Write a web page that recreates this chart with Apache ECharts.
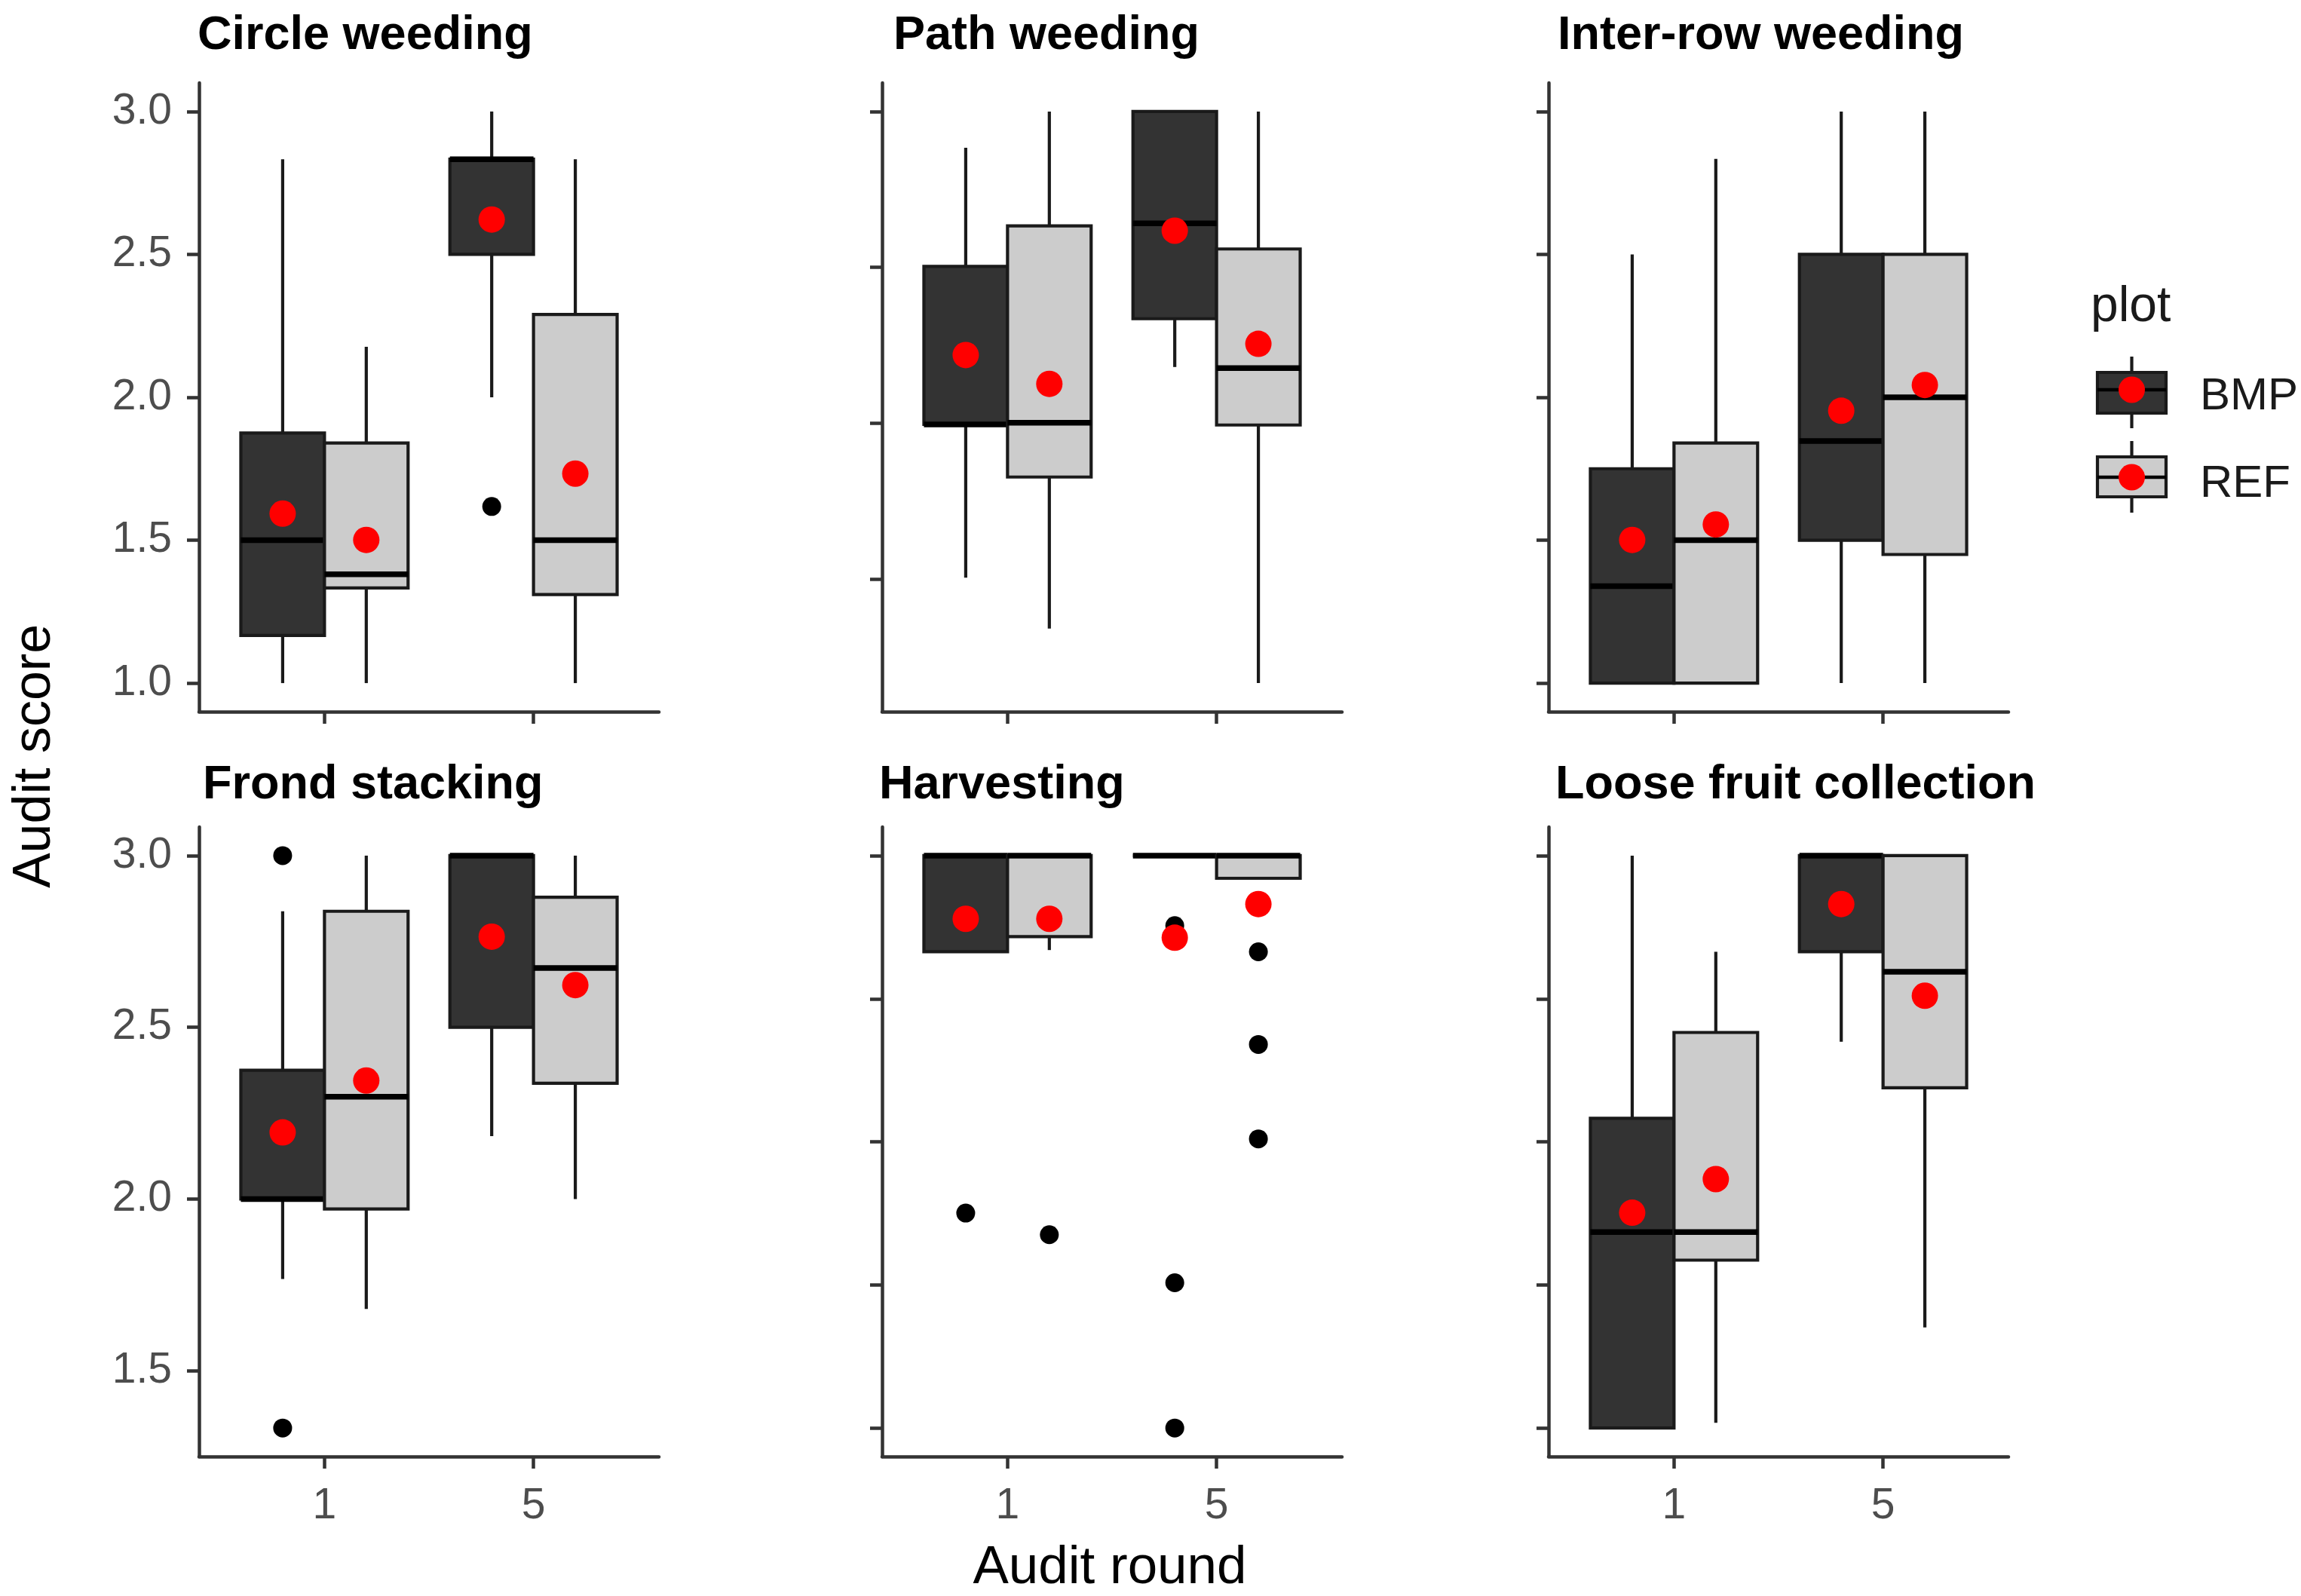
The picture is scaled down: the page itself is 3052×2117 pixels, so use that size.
<!DOCTYPE html>
<html>
<head>
<meta charset="utf-8">
<script src="https://cdn.jsdelivr.net/npm/echarts@6/dist/echarts.min.js"></script>
<style>
html,body{margin:0;padding:0;background:#ffffff;}
#chart{width:3052px;height:2117px;}
</style>
</head>
<body>
<div id="chart"></div>
<script>
// ---------------- DATA ----------------
const panelTitles = ['Circle weeding', 'Path weeding', 'Inter-row weeding',
                     'Frond stacking', 'Harvesting', 'Loose fruit collection'];
const roundLabels = ['1', '5'];
const groupNames = ['BMP', 'REF'];

// per panel: [round 1, round 5], each [lower whisker, Q1, median, Q3, upper whisker]
const bmpStats = [
  [[1.0, 1.167, 1.5, 1.875, 2.833], [2.0, 2.5, 2.833, 2.833, 3.0]],
  [[1.369, 1.905, 1.905, 2.458, 2.873], [2.106, 2.275, 2.609, 3.0, 3.0]],
  [[1.0, 1.0, 1.339, 1.75, 2.5], [1.0, 1.5, 1.847, 2.5, 3.0]],
  [[1.767, 2.0, 2.0, 2.375, 2.838], [2.183, 2.5, 3.0, 3.0, 3.0]],
  [[2.72, 2.72, 3.0, 3.0, 3.0], [3.0, 3.0, 3.0, 3.0, 3.0]],
  [[1.333, 1.333, 1.904, 2.235, 3.0], [2.458, 2.72, 3.0, 3.0, 3.0]]
];
const refStats = [
  [[1.0, 1.333, 1.381, 1.84, 2.177], [1.0, 1.31, 1.5, 2.29, 2.833]],
  [[1.191, 1.721, 1.911, 2.6, 3.0], [1.0, 1.903, 2.102, 2.519, 3.0]],
  [[1.0, 1.0, 1.5, 1.84, 2.834], [1.0, 1.45, 2.0, 2.5, 3.0]],
  [[1.68, 1.971, 2.298, 2.838, 3.0], [2.0, 2.337, 2.673, 2.879, 3.0]],
  [[2.725, 2.764, 3.0, 3.0, 3.0], [2.934, 2.934, 3.0, 3.0, 3.0]],
  [[1.348, 1.822, 1.904, 2.485, 2.72], [1.626, 2.324, 2.662, 3.0, 3.0]]
];
// per panel: [round 1 mean, round 5 mean]
const bmpMeans = [[1.593, 2.622], [2.148, 2.583], [1.501, 1.953], [2.194, 2.764], [2.816, 2.761], [1.960, 2.859]];
const refMeans = [[1.501, 1.733], [2.047, 2.187], [1.555, 2.043], [2.345, 2.623], [2.816, 2.859], [2.058, 2.592]];
// per panel: list of [round index (0 = round 1, 1 = round 5), value]
const bmpOutliers = [
  [[1, 1.618]],
  [],
  [],
  [[0, 3.0], [0, 1.333]],
  [[0, 1.959], [1, 2.796], [1, 1.756], [1, 1.333]],
  []
];
const refOutliers = [
  [],
  [],
  [],
  [],
  [[0, 1.896], [1, 2.72], [1, 2.45], [1, 2.175]],
  []
];
// y tick positions per panel (labels shown on the left column only)
const yTicks = [
  [1.0, 1.5, 2.0, 2.5, 3.0],
  [1.364, 1.909, 2.455, 3.0],
  [1.0, 1.5, 2.0, 2.5, 3.0],
  [1.5, 2.0, 2.5, 3.0],
  [1.333, 1.75, 2.167, 2.583, 3.0],
  [1.333, 1.75, 2.167, 2.583, 3.0]
];
const yTickLabelled = [true, false, false, true, false, false];
const rowRanges = [[0.9, 3.1], [1.25, 3.0833]];

// ---------------- LAYOUT / STYLE ----------------
const FONT = '"Liberation Sans", Arial, Helvetica, sans-serif';
const colLeft = [264, 1170, 2054];
const gridW = 610;
const rowTop = [110, 1097];
const rowH = [834, 835];
const BOX_W = 0.4;
const fills = ['#333333', '#cccccc'];
const AXIS_COL = '#333333';
const LINE_COL = '#1a1a1a';
const LW = 4.2;

function makeRender(fill) {
  return function (params, api) {
    const x = api.value(0);
    const lo = api.coord([x, api.value(1)]);
    const q1 = api.coord([x, api.value(2)]);
    const md = api.coord([x, api.value(3)]);
    const q3 = api.coord([x, api.value(4)]);
    const hi = api.coord([x, api.value(5)]);
    const w = api.size([BOX_W, 0])[0];
    const left = q1[0] - w / 2;
    return {
      type: 'group',
      children: [
        { type: 'line', shape: { x1: hi[0], y1: hi[1], x2: q3[0], y2: q3[1] }, style: { stroke: LINE_COL, lineWidth: LW } },
        { type: 'line', shape: { x1: q1[0], y1: q1[1], x2: lo[0], y2: lo[1] }, style: { stroke: LINE_COL, lineWidth: LW } },
        { type: 'rect', shape: { x: left, y: q3[1], width: w, height: q1[1] - q3[1] }, style: { fill: fill, stroke: LINE_COL, lineWidth: LW } },
        { type: 'line', shape: { x1: left, y1: md[1], x2: left + w, y2: md[1] }, style: { stroke: '#000000', lineWidth: 7.5 } }
      ]
    };
  };
}

const grids = [], xAxes = [], yAxes = [], series = [];
const graphics = [];

panelTitles.forEach(function (title, i) {
  const row = Math.floor(i / 3), col = i % 3;
  grids.push({ left: colLeft[col], top: rowTop[row], width: gridW, height: rowH[row], containLabel: false });
  xAxes.push({
    gridIndex: i, type: 'value', min: 0.4, max: 2.6,
    axisLine: { show: true, onZero: false, lineStyle: { color: AXIS_COL, width: 4.5 } },
    axisTick: { show: true, customValues: [1, 2], length: 16, lineStyle: { color: AXIS_COL, width: 4.5 } },
    axisLabel: {
      show: row === 1, customValues: [1, 2],
      formatter: function (v) { return roundLabels[Math.round(v) - 1]; },
      color: '#4d4d4d', fontSize: 57, fontFamily: FONT, margin: 38
    },
    splitLine: { show: false }
  });
  yAxes.push({
    gridIndex: i, type: 'value', min: rowRanges[row][0], max: rowRanges[row][1],
    axisLine: { show: true, onZero: false, lineStyle: { color: AXIS_COL, width: 4.5 } },
    axisTick: { show: true, customValues: yTicks[i], length: 16, lineStyle: { color: AXIS_COL, width: 4.5 } },
    axisLabel: {
      show: yTickLabelled[i], customValues: yTicks[i],
      formatter: function (v) { return v.toFixed(1); },
      color: '#4d4d4d', fontSize: 57, fontFamily: FONT, margin: 36
    },
    splitLine: { show: false }
  });

  [bmpStats, refStats].forEach(function (stats, g) {
    const offset = g === 0 ? -BOX_W / 2 : BOX_W / 2;
    series.push({
      type: 'custom', name: groupNames[g], xAxisIndex: i, yAxisIndex: i,
      renderItem: makeRender(fills[g]),
      encode: { x: 0, y: [1, 2, 3, 4, 5] },
      data: stats[i].map(function (s, r) { return [r + 1 + offset].concat(s); }),
      z: 2, silent: true
    });
  });
  [bmpOutliers, refOutliers].forEach(function (outs, g) {
    const offset = g === 0 ? -BOX_W / 2 : BOX_W / 2;
    series.push({
      type: 'scatter', xAxisIndex: i, yAxisIndex: i, symbol: 'circle', symbolSize: 25,
      itemStyle: { color: '#000000', opacity: 1 },
      data: outs[i].map(function (o) { return [o[0] + 1 + offset, o[1]]; }),
      z: 3, silent: true
    });
  });
  [bmpMeans, refMeans].forEach(function (means, g) {
    const offset = g === 0 ? -BOX_W / 2 : BOX_W / 2;
    series.push({
      type: 'scatter', xAxisIndex: i, yAxisIndex: i, symbol: 'circle', symbolSize: 35,
      itemStyle: { color: '#ff0000', opacity: 1 },
      data: means[i].map(function (m, r) { return [r + 1 + offset, m]; }),
      z: 4, silent: true
    });
  });
});

// panel titles
const titlePos = [[262, 48], [1185, 48], [2066, 48], [269, 1042], [1166, 1042], [2063, 1042]];
panelTitles.forEach(function (t, i) {
  graphics.push({
    type: 'text', x: titlePos[i][0], y: titlePos[i][1],
    style: { text: t, fontSize: 63, fontWeight: 'bold', fontFamily: FONT, fill: '#000000', align: 'left', verticalAlign: 'middle' }
  });
});
// axis titles
graphics.push({
  type: 'text', x: 47, y: 1003, rotation: Math.PI / 2,
  style: { text: 'Audit score', fontSize: 70, fontFamily: FONT, fill: '#000000', align: 'center', verticalAlign: 'middle' }
});
graphics.push({
  type: 'text', x: 1472, y: 2080,
  style: { text: 'Audit round', fontSize: 71, fontFamily: FONT, fill: '#000000', align: 'center', verticalAlign: 'middle' }
});
// legend
graphics.push({
  type: 'text', x: 2773, y: 408,
  style: { text: 'plot', fontSize: 66, fontFamily: FONT, fill: '#1a1a1a', align: 'left', verticalAlign: 'middle' }
});
const legendKeys = [
  { top: 494, h: 54, wTop: 473, wBot: 568, mid: 517, labelY: 526 },
  { top: 606, h: 53, wTop: 585, wBot: 680, mid: 633, labelY: 642 }
];
legendKeys.forEach(function (k, g) {
  const cx = 2827.5, left = 2782, w = 91;
  graphics.push({ type: 'line', shape: { x1: cx, y1: k.wTop, x2: cx, y2: k.wBot }, style: { stroke: LINE_COL, lineWidth: LW } });
  graphics.push({ type: 'rect', shape: { x: left, y: k.top, width: w, height: k.h }, style: { fill: fills[g], stroke: LINE_COL, lineWidth: LW } });
  graphics.push({ type: 'line', shape: { x1: left, y1: k.mid, x2: left + w, y2: k.mid }, style: { stroke: '#000000', lineWidth: 4.5 } });
  graphics.push({ type: 'circle', shape: { cx: cx, cy: k.mid, r: 17.5 }, style: { fill: '#ff0000' } });
  graphics.push({
    type: 'text', x: 2918, y: k.labelY,
    style: { text: groupNames[g], fontSize: 60, fontFamily: FONT, fill: '#1a1a1a', align: 'left', verticalAlign: 'middle' }
  });
});

const chart = echarts.init(document.getElementById('chart'), null, { renderer: 'canvas', width: 3052, height: 2117 });
chart.setOption({
  backgroundColor: '#ffffff',
  animation: false,
  grid: grids,
  xAxis: xAxes,
  yAxis: yAxes,
  series: series,
  graphic: { elements: graphics }
});
</script>
</body>
</html>
